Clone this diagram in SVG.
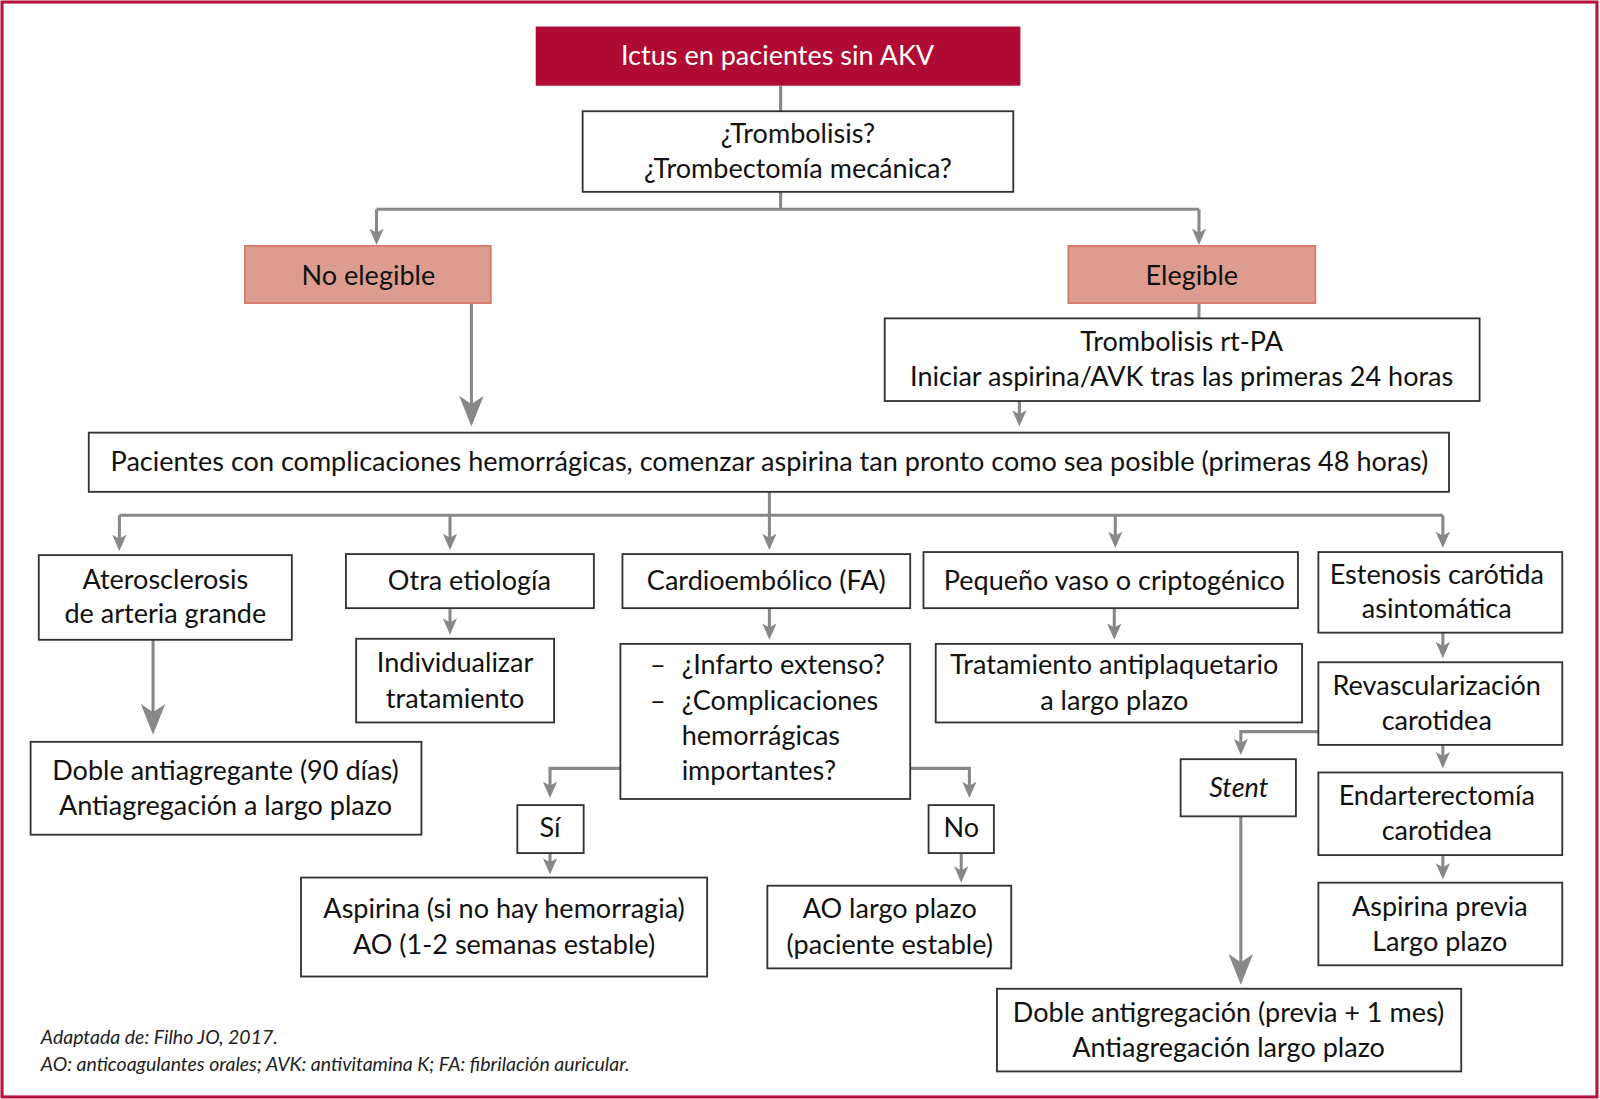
<svg xmlns="http://www.w3.org/2000/svg" width="1600" height="1099" viewBox="0 0 1600 1099">
<style>
text{font-family:Lato,"Liberation Sans",sans-serif;font-size:26.5px;fill:#111;text-anchor:middle}
.box{fill:#fff;stroke:#333;stroke-width:1.8}
.sal{fill:#dd9c90;stroke:#d97b6c;stroke-width:1.8}
.c{fill:none;stroke:#888;stroke-width:3}
.foot{font-size:19.1px;font-style:italic;text-anchor:start;fill:#222}
</style>
<defs>
<marker id="a" markerUnits="userSpaceOnUse" viewBox="-16 -8 17 16" markerWidth="17" markerHeight="16" refX="-4" refY="0" orient="auto">
<path d="M0,0 L-16,-7 L-12,0 L-16,7 Z" fill="#888"/>
</marker>
<marker id="b" markerUnits="userSpaceOnUse" viewBox="-30 -13 31 26" markerWidth="31" markerHeight="26" refX="-6" refY="0" orient="auto">
<path d="M0,0 L-30,-12 L-22,0 L-30,12 Z" fill="#888"/>
</marker>
</defs>
<rect x="0" y="0" width="1600" height="1099" fill="#fff"/>
<g transform="scale(1.02041)">
<rect x="2" y="2" width="1563" height="1073" fill="none" stroke="#b8123f" stroke-width="3"/>

<g id="connectors">
<path class="c" d="M765,84 V109"/>
<path class="c" d="M765,188 V205 M369,205 H1175"/>
<path class="c" marker-end="url(#a)" d="M369,205 V236"/>
<path class="c" marker-end="url(#a)" d="M1175,205 V236"/>
<path class="c" d="M1175,297 V312"/>
<path class="c" marker-end="url(#b)" d="M462,297 V412"/>
<path class="c" marker-end="url(#a)" d="M999,393 V414"/>
<path class="c" d="M754,482 V505 M117,505 H1414"/>
<path class="c" marker-end="url(#a)" d="M117,505 V536"/>
<path class="c" marker-end="url(#a)" d="M441,505 V535"/>
<path class="c" marker-end="url(#a)" d="M754,505 V535"/>
<path class="c" marker-end="url(#a)" d="M1093,505 V533"/>
<path class="c" marker-end="url(#a)" d="M1414,505 V533"/>
<path class="c" marker-end="url(#b)" d="M150,627 V714"/>
<path class="c" marker-end="url(#a)" d="M441,596 V618"/>
<path class="c" marker-end="url(#a)" d="M754,596 V623"/>
<path class="c" marker-end="url(#a)" d="M608,753 H539 V778"/>
<path class="c" marker-end="url(#a)" d="M892,753 H950 V778"/>
<path class="c" marker-end="url(#a)" d="M539,836 V853"/>
<path class="c" marker-end="url(#a)" d="M942,836 V861"/>
<path class="c" marker-end="url(#a)" d="M1092,596 V623"/>
<path class="c" marker-end="url(#a)" d="M1414,620 V641"/>
<path class="c" marker-end="url(#a)" d="M1292,717 H1216 V736"/>
<path class="c" marker-end="url(#a)" d="M1414,730 V749"/>
<path class="c" marker-end="url(#a)" d="M1414,838 V858"/>
<path class="c" marker-end="url(#b)" d="M1216,800 V959"/>
</g>

<g id="n-title">
<rect x="525" y="26" width="475" height="58" fill="#b00b35"/>
<text x="762" y="64" style="fill:#fff">Ictus en pacientes sin AKV</text>
</g>
<g id="n-trombolisis-q">
<rect class="box" x="571" y="109" width="422" height="79"/>
<text x="782" y="140">¿Trombolisis?</text>
<text x="782" y="174">¿Trombectomía mecánica?</text>
</g>
<g id="n-no-elegible">
<rect class="sal" x="240" y="241" width="241" height="56"/>
<text x="361" y="279">No elegible</text>
</g>
<g id="n-elegible">
<rect class="sal" x="1047" y="241" width="242" height="56"/>
<text x="1168" y="279">Elegible</text>
</g>
<g id="n-rtpa">
<rect class="box" x="867" y="312" width="583" height="81"/>
<text x="1158" y="344">Trombolisis rt-PA</text>
<text x="1158" y="378">Iniciar aspirina/AVK tras las primeras 24 horas</text>
</g>
<g id="n-pacientes">
<rect class="box" x="87" y="424" width="1333" height="58"/>
<text x="754" y="462">Pacientes con complicaciones hemorrágicas, comenzar aspirina tan pronto como sea posible (primeras 48 horas)</text>
</g>
<g id="n-ateros">
<rect class="box" x="38" y="544" width="248" height="83"/>
<text x="162" y="577">Aterosclerosis</text>
<text x="162" y="611">de arteria grande</text>
</g>
<g id="n-otra">
<rect class="box" x="339" y="543" width="243" height="53"/>
<text x="460" y="578">Otra etiología</text>
</g>
<g id="n-cardio">
<rect class="box" x="610" y="543" width="282" height="53"/>
<text x="751" y="578">Cardioembólico (FA)</text>
</g>
<g id="n-pequeno">
<rect class="box" x="905" y="541" width="367" height="55"/>
<text x="1092" y="578">Pequeño vaso o criptogénico</text>
</g>
<g id="n-estenosis">
<rect class="box" x="1292" y="541" width="239" height="79"/>
<text x="1408" y="572">Estenosis carótida</text>
<text x="1408" y="606">asintomática</text>
</g>
<g id="n-doble">
<rect class="box" x="30" y="727" width="383" height="91"/>
<text x="221" y="764">Doble antiagregante (90 días)</text>
<text x="221" y="799">Antiagregación a largo plazo</text>
</g>
<g id="n-individualizar">
<rect class="box" x="349" y="626" width="194" height="82"/>
<text x="446" y="659">Individualizar</text>
<text x="446" y="694">tratamiento</text>
</g>
<g id="n-preguntas">
<rect class="box" x="608" y="631" width="284" height="152"/>
<text x="637" y="661" style="text-anchor:start">–</text>
<text x="668" y="661" style="text-anchor:start">¿Infarto extenso?</text>
<text x="637" y="696" style="text-anchor:start">–</text>
<text x="668" y="696" style="text-anchor:start">¿Complicaciones</text>
<text x="668" y="730" style="text-anchor:start">hemorrágicas</text>
<text x="668" y="764" style="text-anchor:start">importantes?</text>
</g>
<g id="n-si">
<rect class="box" x="507" y="789" width="65" height="47"/>
<text x="539" y="820">Sí</text>
</g>
<g id="n-no">
<rect class="box" x="910" y="789" width="64" height="47"/>
<text x="942" y="820">No</text>
</g>
<g id="n-aspirina-ao">
<rect class="box" x="295" y="860" width="398" height="97"/>
<text x="494" y="900">Aspirina (si no hay hemorragia)</text>
<text x="494" y="935">AO (1-2 semanas estable)</text>
</g>
<g id="n-ao-largo">
<rect class="box" x="752" y="868" width="239" height="81"/>
<text x="872" y="900">AO largo plazo</text>
<text x="872" y="935">(paciente estable)</text>
</g>
<g id="n-tratamiento">
<rect class="box" x="917" y="631" width="359" height="77"/>
<text x="1092" y="661">Tratamiento antiplaquetario</text>
<text x="1092" y="696">a largo plazo</text>
</g>
<g id="n-revasc">
<rect class="box" x="1292" y="649" width="239" height="81"/>
<text x="1408" y="681">Revascularización</text>
<text x="1408" y="715">carotidea</text>
</g>
<g id="n-stent">
<rect class="box" x="1157" y="744" width="113" height="56"/>
<text x="1214" y="781" style="font-style:italic">Stent</text>
</g>
<g id="n-endarter">
<rect class="box" x="1292" y="757" width="239" height="81"/>
<text x="1408" y="789">Endarterectomía</text>
<text x="1408" y="823">carotidea</text>
</g>
<g id="n-aspirina-previa">
<rect class="box" x="1292" y="865" width="239" height="81"/>
<text x="1411" y="898">Aspirina previa</text>
<text x="1411" y="932">Largo plazo</text>
</g>
<g id="n-doble-antigreg">
<rect class="box" x="977" y="969" width="455" height="81"/>
<text x="1204" y="1002">Doble antigregación (previa + 1 mes)</text>
<text x="1204" y="1036">Antiagregación largo plazo</text>
</g>
<g id="footnote">
<text class="foot" x="40" y="1023">Adaptada de: Filho JO, 2017.</text>
<text class="foot" x="40" y="1050">AO: anticoagulantes orales; AVK: antivitamina K; FA: fibrilación auricular.</text>
</g>
</g>
</svg>
